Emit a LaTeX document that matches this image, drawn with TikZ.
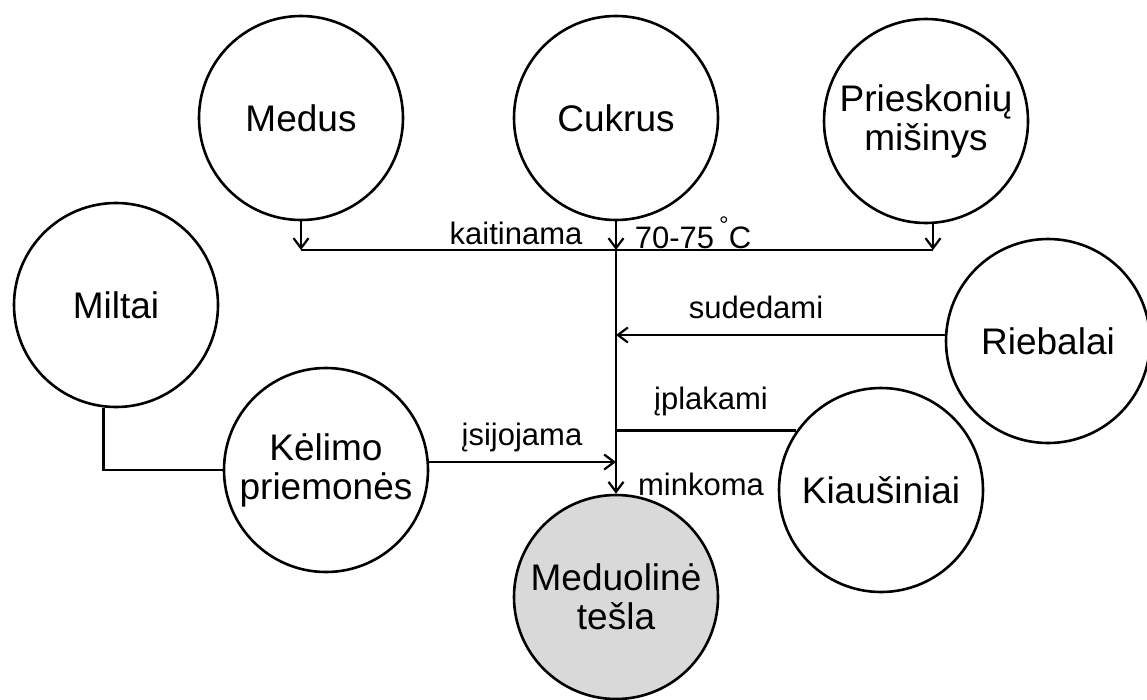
\documentclass[tikz,border=0pt]{standalone}
\usepackage{fontspec}
\setmainfont{Liberation Sans}
\usetikzlibrary{calc,arrows.meta}

\begin{document}
\begin{tikzpicture}[x=1pt,y=-1pt,line width=2.6pt,
    ingr/.style={circle,draw,minimum size=204pt,inner sep=0pt,align=center,
      font=\fontsize{37}{39}\selectfont},
    lbl/.style={font=\fontsize{31}{31}\selectfont,inner sep=0pt},
    arr/.style={-{Straight Barb[length=10pt,width=15pt,line width=2.2pt]}}]
    \useasboundingbox (0,0) rectangle (1147,699);

    % ingredients
    \node[ingr] (medus) at (301,118) {Medus};
    \node[ingr] (cukrus) at (616,118) {Cukrus};
    \node[ingr] (prieskoniai) at (926,121) {Prieskonių\\mišinys};
    \node[ingr] (miltai) at (116,305) {Miltai};
    \node[ingr] (riebalai) at (1048,341) {Riebalai};
    \node[ingr] (kelimo) at (326,470) {Kėlimo\\priemonės};
    \node[ingr] (kiausiniai) at (881,490) {Kiaušiniai};
    \node[ingr,fill=gray!30] (tesla) at (616,597) {Meduolinė\\tešla};

    % heating line
    \coordinate (mix) at (cukrus.south |- 0,250);
    \coordinate (medusIn) at (medus.south |- mix);
    \coordinate (priesIn) at ($(prieskoniai.south |- mix)+(7,0)$);
    \draw (medusIn) -- (priesIn);
    \draw[arr] (medus.south) -- (medusIn);
    \draw[arr] (cukrus.south) -- (mix);
    \draw[arr] ($(prieskoniai.south)+(7,0)$) -- (priesIn);

    % main line down to the dough
    \draw[arr] (mix) -- (tesla.north);
    \draw[arr] (riebalai.west |- 0,335) -- (mix |- 0,335);
    \draw (kiausiniai.145) -- (mix |- kiausiniai.145);
    \draw[arr] (kelimo.east |- 0,462) -- (mix |- 0,462);
    \draw (miltai.263) |- (kelimo.west);

    % labels
    \node[lbl] (kaitinama) at (516,233) {kaitinama};
    \node[lbl] (temp) at (693,233) {70-75\,\raisebox{0.5em}{\fontsize{24}{24}\selectfont °}C};
    \node[lbl] (sudedami) at (756,307) {sudedami};
    \node[lbl] (iplakami) at (711,401) {įplakami};
    \node[lbl] (isijojama) at (522,437) {įsijojama};
    \node[lbl] (minkoma) at (701,484) {minkoma};
\end{tikzpicture}
\end{document}
